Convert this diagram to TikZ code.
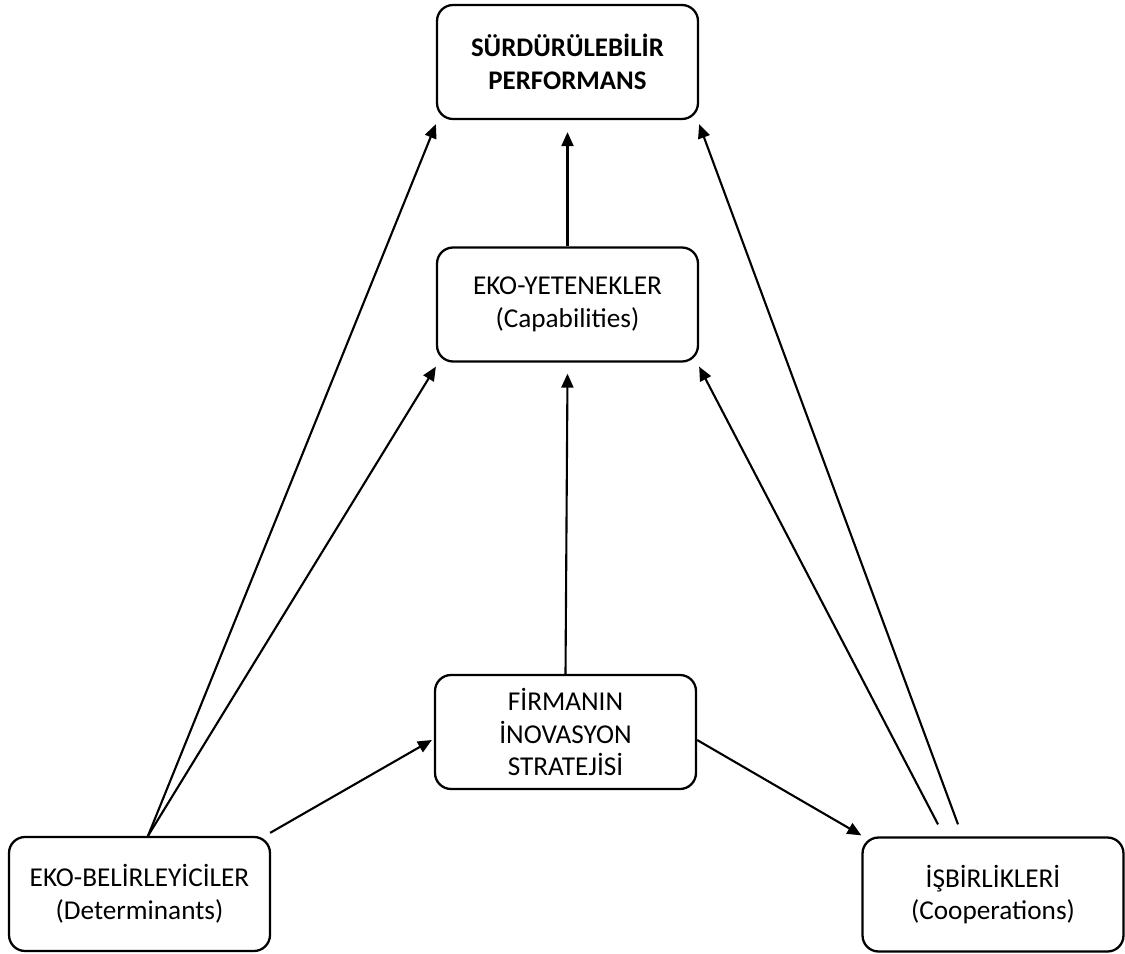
\documentclass[tikz,border=0pt]{standalone}
\usepackage{fontspec}
\setmainfont{Carlito}
\usepackage{tikz}
\usetikzlibrary{arrows.meta, positioning, calc}

\begin{document}
\begin{tikzpicture}[
    x=0.02cm, y=-0.02cm,
    box/.style={rectangle, draw=black, line width=1.3pt, minimum width=5.22cm, minimum height=2.28cm, align=center, rounded corners=0.32cm, font=\fontsize{15.5}{18.7}\selectfont},
    arrow/.style={-{Triangle[length=0.28cm, width=0.24cm]}, line width=1.2pt, draw=black}
]
\useasboundingbox (0,0) rectangle (1125,953);

% Top and middle boxes
\node[box, font=\fontsize{15.3}{18.7}\selectfont\bfseries] (perf) at (567.5, 62) {SÜRDÜRÜLEBİLİR\\PERFORMANS};
\node[box] (cap) at (567.5, 304.5) {EKO-YETENEKLER\\(Capabilities)};
\node[box] (firm) at (565.5, 732) {FİRMANIN\\İNOVASYON\\STRATEJİSİ};

% Bottom corners
\node[box] (det) at (139.5, 894) {EKO-BELİRLEYİCİLER\\(Determinants)};
\node[box] (coop) at (993, 894.5) {İŞBİRLİKLERİ\\(Cooperations)};

% Vertical arrows
\draw[arrow] (firm.north) -- ([yshift=-0.22cm]cap.south);
\draw[arrow] (cap.north) -- ([yshift=-0.24cm]perf.south);

% Arrows from determinants
\draw[arrow] ([xshift=0.17cm]det.north) -- ([yshift=-0.08cm]perf.south west);
\draw[arrow] ([xshift=0.17cm]det.north) -- ([yshift=-0.08cm]cap.south west);
\draw[arrow] ([xshift=-0.02cm, yshift=0.06cm]det.north east) -- ([xshift=-0.04cm, yshift=-0.16cm]firm.west);

% Arrows from cooperations
\draw[arrow] ([yshift=-0.16cm]firm.east) -- ([yshift=0.02cm]coop.north west);
\draw[arrow] ([xshift=-1.1cm, yshift=0.24cm]coop.north) -- ([yshift=-0.08cm]cap.south east);
\draw[arrow] ([xshift=-0.7cm, yshift=0.24cm]coop.north) -- ([yshift=-0.08cm]perf.south east);

\end{tikzpicture}
\end{document}
